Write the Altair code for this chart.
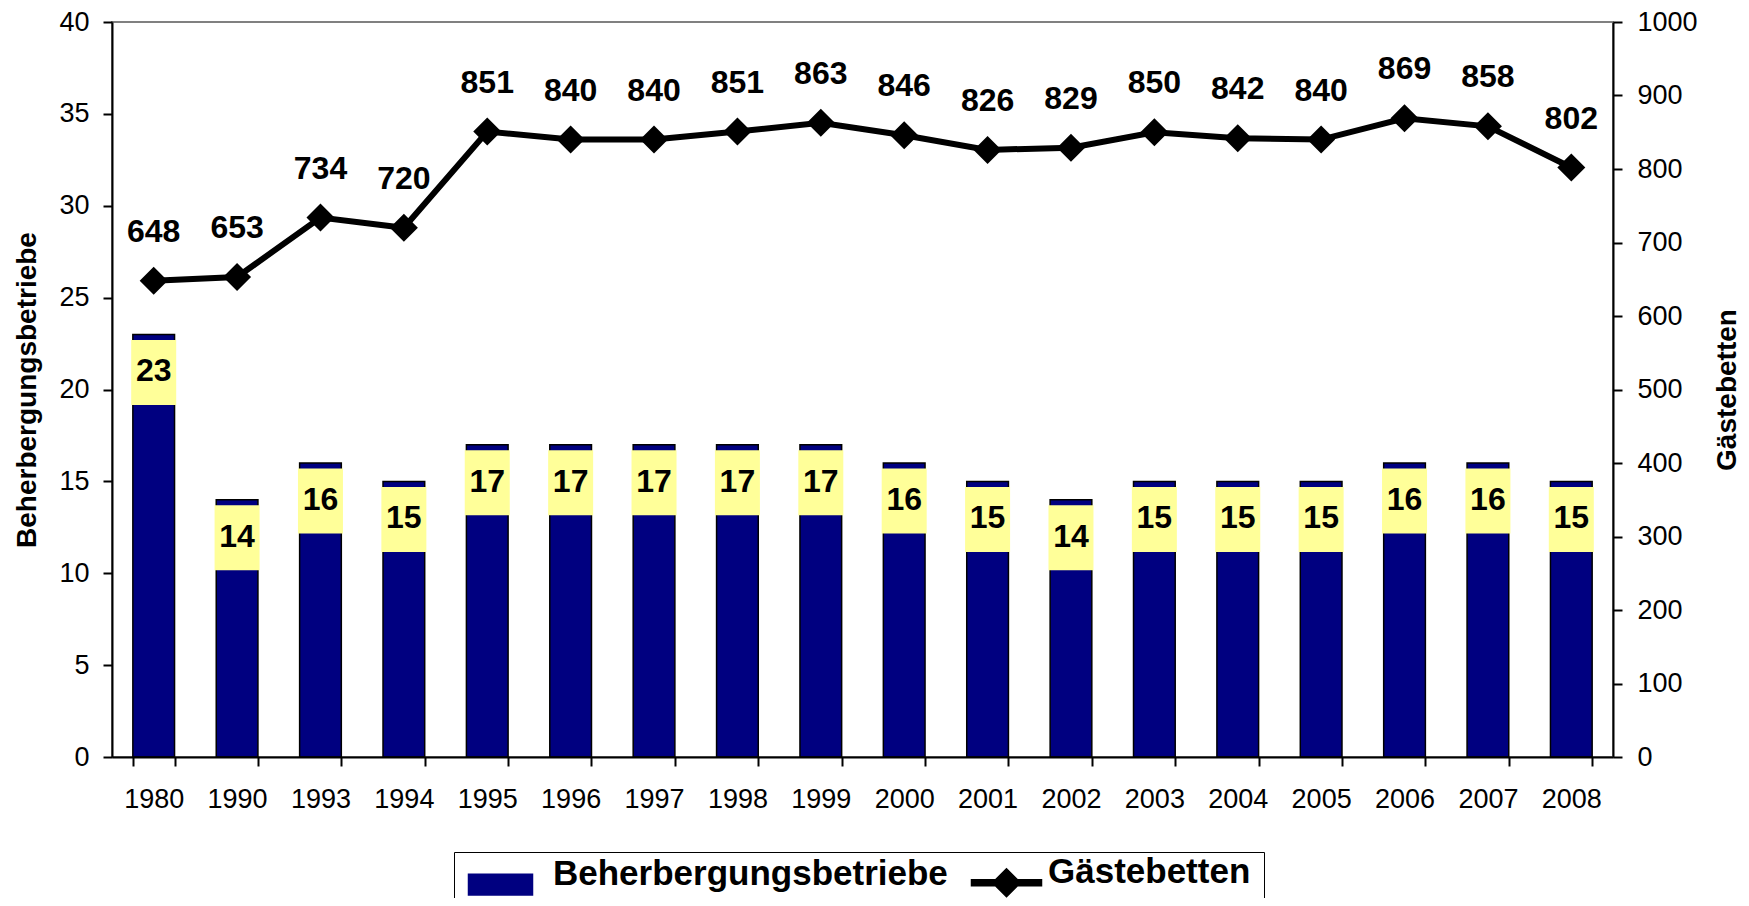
import altair as alt
import pandas as pd

years = ["1980", "1990", "1993", "1994", "1995", "1996", "1997", "1998", "1999",
         "2000", "2001", "2002", "2003", "2004", "2005", "2006", "2007", "2008"]
betriebe = [23, 14, 16, 15, 17, 17, 17, 17, 17, 16, 15, 14, 15, 15, 15, 16, 16, 15]
betten = [648, 653, 734, 720, 851, 840, 840, 851, 863, 846, 826, 829, 850, 842, 840, 869, 858, 802]
series_names = ["Beherbergungsbetriebe", "Gästebetten"]
left_ticks = [0, 5, 10, 15, 20, 25, 30, 35, 40]
right_ticks = [0, 100, 200, 300, 400, 500, 600, 700, 800, 900, 1000]

df = pd.DataFrame({"Jahr": years, "Betriebe": betriebe, "Betten": betten})

FONT = "Liberation Sans"
NAVY = "#000080"
YELLOW = "#FFFF99"
W, H = 1501, 735

x_enc = alt.X(
    "Jahr:N", sort=years, title=None,
    scale=alt.Scale(paddingInner=0.5, paddingOuter=0.25),
    axis=alt.Axis(labelAngle=0, tickBand="extent", tickSize=9, tickWidth=2,
                  domainWidth=2, domainColor="black", tickColor="black",
                  labelPadding=20, labelFontSize=27, labelColor="black",
                  labelFont=FONT, zindex=1),
)

yl_scale = alt.Scale(domain=[0, 40], nice=False)
yl_axis = alt.Axis(orient="left", values=left_ticks, title="Beherbergungsbetriebe",
                   format="d",
                   titleAngle=270, titleX=-85, titleY=H / 2, titleBaseline="middle",
                   titleAlign="center", titleFontSize=28, titleFontWeight="bold",
                   titleColor="black", titleFont=FONT,
                   labelFontSize=27, labelPadding=14, labelColor="black", labelFont=FONT,
                   tickSize=9, tickWidth=2, domainWidth=2, domainColor="black",
                   tickColor="black", grid=False, zindex=1)

yr_scale = alt.Scale(domain=[0, 1000], nice=False)
yr_axis = alt.Axis(orient="right", values=right_ticks, title="Gästebetten",
                   format="d",
                   titleAngle=270, titleX=114, titleY=H / 2, titleBaseline="middle",
                   titleAlign="center", titleFontSize=28, titleFontWeight="bold",
                   titleColor="black", titleFont=FONT,
                   labelFontSize=27, labelPadding=15, labelColor="black", labelFont=FONT,
                   tickSize=9, tickWidth=2, domainWidth=2, domainColor="black",
                   tickColor="black", grid=False, zindex=1)

bar_path = "M-1,-0.65L3,-0.65L3,0.65L-1,0.65Z"
line_path = ("M-0.5,-0.19L3.875,-0.19L3.875,0.19L-0.5,0.19Z"
             "M0.8125,0L1.6875,-0.875L2.5625,0L1.6875,0.875Z")

legend = alt.Legend(
    title=None, orient="none", legendX=342, legendY=830, direction="horizontal",
    columns=2, columnPadding=14, padding=13, strokeColor="black",
    symbolSize=1024, labelOffset=51, labelLimit=1000,
    labelFont=FONT, labelFontSize=35, labelFontWeight="bold", labelColor="black",
    labelBaseline="alphabetic", symbolOpacity=1, symbolStrokeColor="black",
    symbolStrokeWidth=1.5,
)
color_scale = alt.Scale(domain=series_names, range=[NAVY, "black"])
shape_scale = alt.Scale(domain=series_names, range=[bar_path, line_path])

base = alt.Chart(df)

bars = base.transform_calculate(serie="'Beherbergungsbetriebe'").mark_bar(
    stroke="black", strokeWidth=1.5
).encode(
    x=x_enc,
    y=alt.Y("Betriebe:Q", scale=yl_scale, axis=yl_axis),
    color=alt.Color("serie:N", scale=color_scale, legend=legend),
)

boxes = base.mark_tick(size=45, thickness=65, yOffset=38, color=YELLOW, opacity=1).encode(
    x=x_enc,
    y=alt.Y("Betriebe:Q", scale=yl_scale, axis=yl_axis),
)

bar_labels = base.mark_text(dy=47, baseline="alphabetic", fontSize=32, fontWeight="bold",
                            color="black", font=FONT).encode(
    x=x_enc,
    y=alt.Y("Betriebe:Q", scale=yl_scale, axis=yl_axis),
    text="Betriebe:Q",
)

left = alt.layer(bars, boxes, bar_labels)

line = base.transform_calculate(serie="'Gästebetten'").mark_line(strokeWidth=6).encode(
    x=x_enc,
    y=alt.Y("Betten:Q", scale=yr_scale, axis=yr_axis),
    color=alt.Color("serie:N", scale=color_scale, legend=legend),
)

points = base.mark_point(shape="diamond", filled=True, size=784, color="black", opacity=1).encode(
    x=x_enc,
    y=alt.Y("Betten:Q", scale=yr_scale, axis=yr_axis),
)

# invisible layer that only carries the legend symbols
legend_helper = base.transform_calculate(serie="'Gästebetten'").mark_point(
    filled=True, opacity=0, size=1024
).encode(
    x=x_enc,
    y=alt.Y("Betten:Q", scale=yr_scale, axis=yr_axis),
    color=alt.Color("serie:N", scale=color_scale, legend=legend),
    shape=alt.Shape("serie:N", scale=shape_scale, legend=legend),
)

line_labels = base.mark_text(dy=-39, baseline="alphabetic", fontSize=32, fontWeight="bold",
                             color="black", font=FONT).encode(
    x=x_enc,
    y=alt.Y("Betten:Q", scale=yr_scale, axis=yr_axis),
    text="Betten:Q",
)

right = alt.layer(line, points, legend_helper, line_labels)

chart = alt.layer(left, right).resolve_scale(y="independent").properties(
    width=W, height=H,
    autosize=alt.AutoSizeParams(type="none"),
    padding={"left": 104, "top": 14, "right": 128, "bottom": 141},
).configure(font=FONT).configure_view(stroke="#808080", strokeWidth=2)

chart.save("out.html", embed_options={"renderer": "svg", "actions": False})
